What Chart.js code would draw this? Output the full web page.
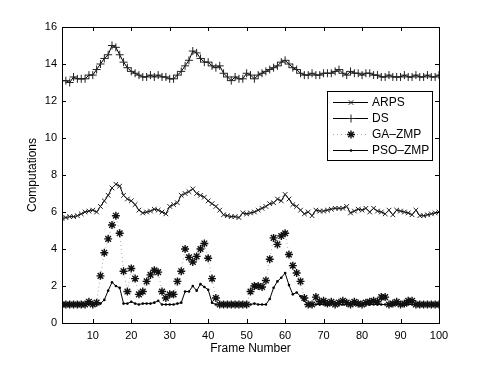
<!DOCTYPE html>
<html>
<head>
<meta charset="utf-8">
<script src="https://cdn.jsdelivr.net/npm/chart.js@4.4.1/dist/chart.umd.min.js"></script>
<style>
  body { margin: 0; background: #fff; }
  #myChart { display: block; }
</style>
</head>
<body>
<canvas id="myChart" width="485" height="365"></canvas>
<script>
// frame numbers 2..100
var frames = [2,3,4,5,6,7,8,9,10,11,12,13,14,15,16,17,18,19,20,21,22,23,24,25,26,27,28,29,30,31,
  32,33,34,35,36,37,38,39,40,41,42,43,44,45,46,47,48,49,50,51,52,53,54,55,56,57,58,59,60,61,
  62,63,64,65,66,67,68,69,70,71,72,73,74,75,76,77,78,79,80,81,82,83,84,85,86,87,88,89,90,91,
  92,93,94,95,96,97,98,99,100];
var xTicks = [10,20,30,40,50,60,70,80,90,100];

var arps = [5.65,5.7,5.75,5.75,5.8,5.9,6.0,6.05,6.1,6.0,
  6.3,6.6,6.9,7.3,7.5,7.4,6.9,6.7,6.6,6.4,
  6.1,5.95,6.0,6.05,6.15,6.1,6.0,5.9,6.3,6.4,
  6.5,6.9,7.0,7.1,7.25,7.0,6.9,6.8,6.6,6.45,
  6.3,6.1,5.85,5.8,5.75,5.75,5.7,5.95,5.9,5.95,
  6.0,6.1,6.2,6.3,6.45,6.5,6.7,6.6,6.95,6.7,
  6.4,6.3,6.1,5.9,6.0,5.8,6.1,6.05,6.05,6.1,
  6.15,6.2,6.2,6.2,6.3,5.95,6.05,6.15,6.1,6.2,
  6.0,6.2,6.05,6.0,5.9,6.1,5.85,6.1,6.05,6.0,
  5.95,5.85,6.1,5.8,5.8,5.85,5.9,5.95,6.0];
var ds = [13.1,13.1,13.0,13.3,13.2,13.2,13.2,13.4,13.4,13.7,
  14.0,14.3,14.5,15.0,14.9,14.5,14.1,13.8,13.6,13.5,
  13.4,13.3,13.3,13.4,13.3,13.4,13.3,13.3,13.2,13.2,
  13.4,13.6,13.9,14.2,14.7,14.6,14.3,14.1,14.1,13.9,
  13.8,13.9,13.5,13.3,13.1,13.3,13.2,13.2,13.5,13.4,
  13.2,13.4,13.5,13.6,13.7,13.8,13.9,14.1,14.2,14.0,
  13.8,13.7,13.5,13.4,13.4,13.5,13.4,13.4,13.5,13.5,
  13.5,13.6,13.7,13.5,13.4,13.6,13.5,13.5,13.4,13.5,
  13.5,13.4,13.4,13.3,13.3,13.4,13.3,13.3,13.3,13.4,
  13.3,13.3,13.4,13.3,13.3,13.4,13.3,13.3,13.4];
var gaZmp = [1.0,1.0,1.0,1.0,1.0,1.0,1.0,1.15,1.0,1.1,
  2.55,3.8,4.55,5.3,5.8,4.85,2.8,1.7,2.95,2.4,
  1.55,1.7,2.25,2.6,2.85,2.75,1.7,1.35,1.55,1.55,
  2.25,2.8,4.0,3.55,3.3,3.6,4.0,4.3,3.5,2.4,
  1.35,1.0,1.0,1.0,1.0,1.0,1.0,1.0,1.0,1.7,
  2.0,2.0,1.95,2.3,3.45,4.6,4.25,4.7,4.85,3.7,
  3.1,2.7,2.25,1.35,1.0,1.0,1.4,1.15,1.2,1.05,
  1.15,1.0,1.1,1.2,1.1,1.0,1.15,1.05,1.0,1.1,
  1.15,1.2,1.15,1.4,1.4,1.0,1.05,1.15,1.0,1.05,
  1.2,1.2,1.0,1.0,1.0,1.0,1.0,1.0,1.0];
var psoZmp = [1.0,1.0,1.0,1.0,1.0,1.0,1.0,1.0,1.0,1.0,
  1.05,1.25,1.75,2.2,2.0,1.9,1.05,1.05,1.15,1.05,
  1.0,1.05,1.05,1.05,1.1,1.2,1.0,1.0,1.0,1.0,
  1.05,1.1,1.7,1.7,2.0,1.75,2.1,1.95,1.8,1.1,
  1.0,1.0,1.0,1.0,1.0,1.0,1.0,1.0,1.0,1.0,
  1.05,1.0,1.0,1.0,1.3,1.9,2.25,2.45,2.7,2.05,
  1.55,1.65,1.45,1.2,1.0,1.0,1.0,1.0,1.0,1.0,
  1.0,1.0,1.0,1.0,1.0,1.0,1.0,1.0,1.0,1.0,
  1.0,1.0,1.0,1.0,1.0,1.0,1.0,1.0,1.0,1.0,
  1.0,1.0,1.0,1.0,1.0,1.0,1.0,1.0,1.0];

function pts(vals) {
  return frames.map(function(f, i) { return {x: f, y: vals[i]}; });
}

var FONT = '"Liberation Sans", Arial, Helvetica, sans-serif';

// matlab style box with inward ticks
var boxPlugin = {
  id: 'box',
  afterDraw: function(chart) {
    var c = chart.ctx, a = chart.chartArea;
    var xs = chart.scales.x, ys = chart.scales.y;
    c.save();
    c.strokeStyle = '#000';
    c.lineWidth = 1;
    c.strokeRect(Math.round(a.left) + 0.5, Math.round(a.top) + 0.5,
      Math.round(a.right - a.left), Math.round(a.bottom - a.top));
    c.beginPath();
    xTicks.forEach(function(v) {
      var px = Math.round(xs.getPixelForValue(v)) + 0.5;
      c.moveTo(px, a.bottom); c.lineTo(px, a.bottom - 4);
      c.moveTo(px, a.top); c.lineTo(px, a.top + 4);
    });
    ys.ticks.forEach(function(t) {
      var py = Math.round(ys.getPixelForValue(t.value)) + 0.5;
      c.moveTo(a.left, py); c.lineTo(a.left + 4, py);
      c.moveTo(a.right, py); c.lineTo(a.right - 4, py);
    });
    c.stroke();
    c.restore();
  }
};

// legend box inside the plot, top right
var legendPlugin = {
  id: 'insideLegend',
  afterDraw: function(chart) {
    var c = chart.ctx;
    var x0 = 327, y0 = 91, w = 105, h = 69, row = 16.2;
    c.save();
    c.fillStyle = '#fff';
    c.fillRect(x0, y0, w, h);
    c.strokeStyle = '#000';
    c.lineWidth = 1;
    c.strokeRect(x0 + 0.5, y0 + 0.5, w, h);
    chart.data.datasets.forEach(function(d, i) {
      var cy = Math.round(y0 + 10.5 + i * row) + 0.5;
      c.strokeStyle = d.borderColor;
      c.lineWidth = d.borderWidth;
      c.setLineDash(d.borderDash || []);
      c.beginPath();
      c.moveTo(333, cy); c.lineTo(368, cy);
      c.stroke();
      c.setLineDash([]);
      c.strokeStyle = d.pointBorderColor;
      c.fillStyle = d.pointBackgroundColor;
      c.lineWidth = d.pointBorderWidth;
      Chart.helpers.drawPoint(c, {
        pointStyle: d.pointStyle, radius: d.pointRadius,
        borderWidth: d.pointBorderWidth, rotation: 0
      }, 351, cy);
      c.fillStyle = '#000';
      c.font = '12px ' + FONT;
      c.textBaseline = 'middle';
      c.fillText(d.label, 372, cy);
    });
    c.restore();
  }
};

var ctx = document.getElementById('myChart');
var myChart = new Chart(ctx, {
  type: 'line',
  data: {
    datasets: [
      {
        label: 'ARPS',
        data: pts(arps),
        borderColor: '#000',
        borderWidth: 1,
        pointStyle: 'crossRot',
        pointRadius: 3.3,
        pointBorderColor: '#222',
        pointBackgroundColor: '#222',
        pointBorderWidth: 1,
        fill: false
      },
      {
        label: 'DS',
        data: pts(ds),
        borderColor: '#000',
        borderWidth: 1,
        pointStyle: 'cross',
        pointRadius: 4,
        pointBorderColor: '#222',
        pointBackgroundColor: '#222',
        pointBorderWidth: 1,
        fill: false
      },
      {
        label: 'GA\u2013ZMP',
        data: pts(gaZmp),
        borderColor: '#aaa',
        borderWidth: 1,
        borderDash: [1, 3],
        pointStyle: 'star',
        pointRadius: 4,
        pointBorderColor: '#111',
        pointBackgroundColor: '#111',
        pointBorderWidth: 1.4,
        fill: false
      },
      {
        label: 'PSO\u2013ZMP',
        data: pts(psoZmp),
        borderColor: '#000',
        borderWidth: 1,
        pointStyle: 'circle',
        pointRadius: 1.3,
        pointBorderColor: '#000',
        pointBackgroundColor: '#000',
        pointBorderWidth: 0,
        fill: false
      }
    ]
  },
  options: {
    responsive: false,
    animation: false,
    layout: { padding: { left: 21, right: 46, top: 27, bottom: 5 } },
    plugins: { legend: { display: false }, tooltip: { enabled: false } },
    elements: { line: { tension: 0 } },
    scales: {
      x: {
        type: 'linear',
        min: 2,
        max: 100,
        afterBuildTicks: function(scale) {
          scale.ticks = xTicks.map(function(v) { return {value: v}; });
        },
        afterFit: function(scale) { scale.height = 37; },
        grid: { display: false, drawTicks: false },
        border: { display: false },
        ticks: { color: '#000', font: { family: FONT, size: 11 }, padding: 6, maxRotation: 0 },
        title: { display: true, text: 'Frame Number', color: '#000',
          font: { family: FONT, size: 12 }, padding: 4 }
      },
      y: {
        min: 0,
        max: 16,
        afterFit: function(scale) { scale.width = 41; },
        grid: { display: false, drawTicks: false },
        border: { display: false },
        ticks: { stepSize: 2, color: '#000', font: { family: FONT, size: 11 }, padding: 5 },
        title: { display: true, text: 'Computations', color: '#000',
          font: { family: FONT, size: 12 }, padding: 4 }
      }
    }
  },
  plugins: [boxPlugin, legendPlugin]
});
</script>
</body>
</html>
